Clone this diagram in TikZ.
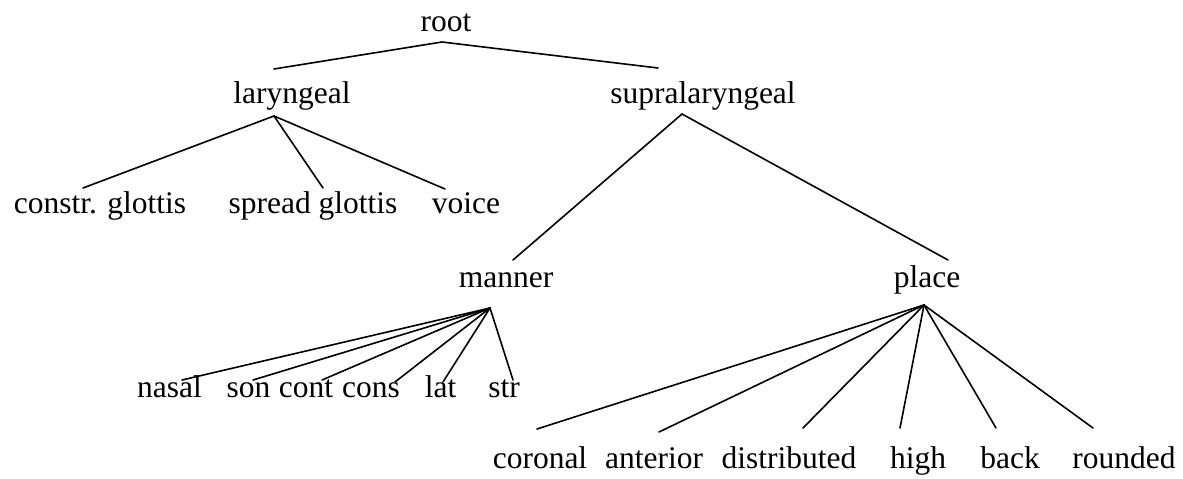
\documentclass[tikz,border=0pt]{standalone}
\usepackage{fontspec}
\setmainfont{Liberation Serif}
\begin{document}
\begin{tikzpicture}[x=1pt,y=-1pt,
  lbl/.style={anchor=base,inner sep=0pt,font=\fontsize{31.5}{38}\selectfont},
  edge/.style={line width=1.6pt,line cap=round}]
\useasboundingbox (0,0) rectangle (1183,479);
% labels
\node[lbl] (root) at (446,31) {root};
\node[lbl] (lar) at (292,103) {laryngeal};
\node[lbl] (supra) at (703,103) {supralaryngeal};
\node[lbl] (cg) at (100,213) {constr. glottis};
\node[lbl] (sg) at (313,213) {spread glottis};
\node[lbl] (voice) at (466,213) {voice};
\node[lbl] (manner) at (506,287) {manner};
\node[lbl] (place) at (927,287) {place};
\node[lbl] (nasal) at (169.5,397) {nasal};
\node[lbl] (son) at (248.5,397) {son};
\node[lbl] (cont) at (306,397) {cont};
\node[lbl] (cons) at (371,397) {cons};
\node[lbl] (lat) at (440.5,397) {lat};
\node[lbl] (str) at (504,397) {str};
\node[lbl] (coronal) at (540,468) {coronal};
\node[lbl] (anterior) at (654,468) {anterior};
\node[lbl] (distributed) at (789,468) {distributed};
\node[lbl] (high) at (918,468) {high};
\node[lbl] (back) at (1010,468) {back};
\node[lbl] (rounded) at (1124,468) {rounded};
% attachment points
\coordinate (root-d) at (442,42);
\coordinate (lar-u) at (274,69);
\coordinate (supra-u) at (658,68);
\coordinate (lar-d) at (274,116);
\coordinate (cg-u) at (83,188);
\coordinate (sg-u) at (323,188);
\coordinate (voice-u) at (445,189);
\coordinate (supra-d) at (682,114);
\coordinate (manner-u) at (513,260);
\coordinate (place-u) at (948,260);
\coordinate (manner-d) at (490,308);
\coordinate (nasal-u) at (182,380);
\coordinate (son-u) at (253,380);
\coordinate (cont-u) at (322,380);
\coordinate (cons-u) at (395,382);
\coordinate (lat-u) at (443,382);
\coordinate (str-u) at (513,380);
\coordinate (place-d) at (924,305);
\coordinate (coronal-u) at (537,429);
\coordinate (anterior-u) at (659,432);
\coordinate (distributed-u) at (803,428);
\coordinate (high-u) at (900,428);
\coordinate (back-u) at (996,428);
\coordinate (rounded-u) at (1093,428);
% edges
\draw[edge] (lar-u) -- (root-d) -- (supra-u);
\draw[edge] (lar-d) -- (cg-u);
\draw[edge] (lar-d) -- (sg-u);
\draw[edge] (lar-d) -- (voice-u);
\draw[edge] (manner-u) -- (supra-d) -- (place-u);
\foreach \c in {nasal,son,cont,cons,lat,str}
  \draw[edge] (manner-d) -- (\c-u);
\foreach \c in {coronal,anterior,distributed,high,back,rounded}
  \draw[edge] (place-d) -- (\c-u);
\end{tikzpicture}
\end{document}
